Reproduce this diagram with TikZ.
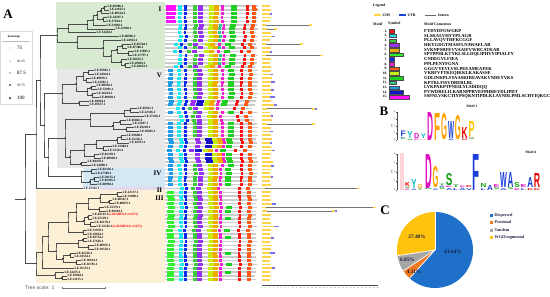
\documentclass[tikz,border=0pt]{standalone}
\usepackage{fontspec}
\setmainfont{Liberation Serif}
\setsansfont{Liberation Sans}
\usepackage{graphicx}
\usetikzlibrary{calc}

\definecolor{bgI}{HTML}{D8EAD2}
\definecolor{bgV}{HTML}{E8E8E8}
\definecolor{bgIV}{HTML}{D3E7F4}
\definecolor{bgII}{HTML}{E5D9EE}
\definecolor{bgIII}{HTML}{FCF0D6}
\definecolor{mc1}{HTML}{FF1010}
\definecolor{mc2}{HTML}{20E8F0}
\definecolor{mc3}{HTML}{3CCB3C}
\definecolor{mc4}{HTML}{9B30F5}
\definecolor{mc5}{HTML}{F2A900}
\definecolor{mc6}{HTML}{30F030}
\definecolor{mc7}{HTML}{0A2CF0}
\definecolor{mc8}{HTML}{EE22C8}
\definecolor{mc9}{HTML}{FF5A14}
\definecolor{mc10}{HTML}{C6EC10}
\definecolor{mc11}{HTML}{20D020}
\definecolor{mc12}{HTML}{30C890}
\definecolor{mc13}{HTML}{1E9BE8}
\definecolor{mc14}{HTML}{1414C8}
\definecolor{mc15}{HTML}{FF10FF}
\definecolor{cdsc}{HTML}{FFD34A}
\definecolor{utrc}{HTML}{7676EE}
\definecolor{lgblue}{HTML}{1A3FD8}
\definecolor{lgmag}{HTML}{E010C0}
\definecolor{lgorange}{HTML}{FFA200}
\definecolor{lgred}{HTML}{E80000}
\definecolor{lgcyan}{HTML}{10B8C8}
\definecolor{lggreen}{HTML}{10A010}
\definecolor{lgyellow}{HTML}{FFC800}
\definecolor{lgpink}{HTML}{FFB0B8}
\definecolor{pblue}{HTML}{1F70C8}
\definecolor{porange}{HTML}{F07A22}
\definecolor{pgray}{HTML}{A6A6A6}
\definecolor{pyellow}{HTML}{FFC20E}
\definecolor{txtdark}{HTML}{1A1A40}

\def\mw{{0,2.6,3.6,4,5,5,7,2.6,2.6,4.2,4.6,6,3.2,4.6,7,9.5}}
\def\TIa{15/166,2/178,7/184,3/193,4/198,10/209,5/213.6,8/221,11/231,1/246,9/252}
\def\TIb{2/178,7/184,3/193,4/198,10/208,5/212.6,12/218,8/222,11/229,1/243,9/250}
\def\TIc{2/175,7/181,3/189,4/194,10/206,5/210.6,8/219,11/226,1/242,9/249}
\def\TV{13/168,2/177,7/184,3/193,4/197,10/208,5/212.6,8/221,11/228,1/240,9/248}
\def\TVb{13/168,2/177,7/184,4/190,14/196,10/204,5/208.6,8/216,11/221,1/235,9/244}
\def\TVc{13/168,2/179,7/184,4/195,14/205,10/212,5/216.6,8/222,11/226,1/240,9/248}
\def\TVd{2/178,7/184,3/190,4/195,10/206,5/210.6,8/218,1/235,9/243}
\def\TIV{13/168,2/178,7/184,3/193,4/198,10/208,5/212.6,8/219,11/225,1/240,9/248}
\def\TII{2/180,7/185,3/191,4/196,10/207,5/211.6,8/217,1/238,9/246}
\def\TIII{6/167,2/179,7/184,3/193,4/197,10/208,5/212.6,8/219,1/238,9/247}
\def\TIIIb{6/167,2/179,7/184,3/193,4/197,10/208,5/212.6,8/219,11/225,1/238,9/247}

% leaf: name, tip x, row, label
\newcommand\lf[4]{%
  \coordinate (#1) at (#2,{6+3.8*#3});
  \node[leaflab] (#1t) at (#1) {#4};}
% inner node: [dot radius] name, x, child1, child2
\newcommand\nd[5][.85]{%
  \path let \p1=($(#4)!.5!(#5)$) in coordinate (#2) at (#3pt,\y1);
  \draw[br] (#4) -| (#2) |- (#5);
  \fill[bsdot] (#2) circle[radius=#1];}
% motif row: row, shift, end, list
\newcommand\mrow[4]{%
  \pgfmathsetmacro\yy{6+3.8*#1}%
  \fill[mline] (165,{\yy-0.7}) rectangle (#3,{\yy+0.7});
  \foreach \m/\s in #4 {%
    \pgfmathsetmacro\ww{\mw[\m]}%
    \fill[fill=mc\m] ({\s+#2},{\yy-1.5}) rectangle ++(\ww,3);}}
% gene structure short: row, cds length, utr length
\newcommand\gs[3]{%
  \pgfmathsetmacro\yy{6+3.8*#1}%
  \fill[cds] (262,{\yy-0.9}) rectangle ++(#2,1.8);
  \ifdim #3pt>0pt \fill[utr] ({262+#2},{\yy-0.9}) rectangle ++(#3,1.8);\fi}
% gene structure long: row, first cds, end x, utr
\newcommand\gl[4]{%
  \pgfmathsetmacro\yy{6+3.8*#1}%
  \draw[intron] (262,\yy) -- (#3,\yy);
  \fill[cds] (262,{\yy-0.9}) rectangle ++(#2,1.8);
  \fill[cds] ({#3-3},{\yy-0.9}) rectangle ++(3,1.8);
  \ifdim #4pt>0pt \fill[utr] (#3,{\yy-0.9}) rectangle ++(#4,1.8);\fi}
% logo letter: name, x, base, w, h, colour, letter
\newcommand\lt[7]{\node[inner sep=0pt,outer sep=0pt,anchor=south west] (#1) at (#2,#3) {\resizebox{#4pt}{#5pt}{\sffamily\bfseries\textcolor{#6}{#7}}};}

\begin{document}
\begin{tikzpicture}[x=1pt,y=-1pt,
  br/.style={draw=black!70,line width=.35pt},
  bsdot/.style={fill=black},
  leaflab/.style={anchor=west,inner sep=.4pt,font=\fontsize{3.3}{3.6}\selectfont\bfseries},
  mline/.style={fill=black!20},
  cds/.style={fill=cdsc},
  utr/.style={fill=utrc},
  intron/.style={draw=black!55,line width=.5pt},
  roman/.style={font=\fontsize{7}{7}\selectfont\bfseries,inner sep=0pt},
  panel/.style={font=\fontsize{13}{13}\selectfont\bfseries,inner sep=0pt},
  lgtxt/.style={font=\fontsize{3.8}{4}\selectfont\bfseries,inner sep=0pt,anchor=west},
  lgnum/.style={font=\fontsize{3.5}{4}\selectfont\bfseries,inner sep=0pt,anchor=east},
  lgseq/.style={font=\fontsize{4.6}{4.7}\selectfont\bfseries,inner sep=0pt,anchor=west},
  pielab/.style={font=\fontsize{5.3}{6}\selectfont\bfseries,text=txtdark,inner sep=0pt},
  pieleg/.style={font=\fontsize{4.2}{5}\selectfont\bfseries,text=txtdark,inner sep=0pt,anchor=west},
  tick/.style={font=\fontsize{2.4}{2.6}\selectfont,inner sep=0pt,anchor=east}]
\useasboundingbox (0,0) rectangle (550,297);
\fill[white] (0,0) rectangle (550,297);

% ---------- clade backgrounds ----------
\fill[bgI] (56,2) rectangle (165,68.7);
\fill[bgV] (57,68.7) rectangle (165,167.5);
\fill[bgIV] (83,167.5) rectangle (165,186.5);
\fill[bgII] (100,186.5) rectangle (165,190.3);
\fill[bgIII] (36,190.3) rectangle (165,283);

\node[panel] (pA) at (8,14) {A};

% ---------- bootstrap legend ----------
\draw[black!15,line width=.3] (0,31) rectangle (32,104);
\node[font=\fontsize{3}{3.5}\selectfont\bfseries,inner sep=0pt] (bst) at (14,37) {bootstrap};
\draw[black!25,line width=.3] (2,41) -- (30,41);
\fill (10,48) circle[radius=.35]; \node[font=\fontsize{5}{5}\selectfont,anchor=west,inner sep=0pt] (b75) at (17,48) {75};
\fill (10,61) circle[radius=.5]; \node[font=\fontsize{3.4}{4}\selectfont,anchor=west,inner sep=0pt] (b81) at (17,61) {81.25};
\fill (10,73) circle[radius=.65]; \node[font=\fontsize{5}{5}\selectfont,anchor=west,inner sep=0pt] (b87) at (17,73) {87.5};
\fill (10,85) circle[radius=.8]; \node[font=\fontsize{3.4}{4}\selectfont,anchor=west,inner sep=0pt] (b93) at (17,85) {93.75};
\fill (10,98) circle[radius=1]; \node[font=\fontsize{5}{5}\selectfont,anchor=west,inner sep=0pt] (b100) at (17,98) {100};

% ---------- tree: group I ----------
\lf{r0}{107}{0}{LE.05906.1}
\lf{r1}{109}{1}{LE.21163.1}
\lf{r2}{109}{2}{LE.09524.1}
\lf{r3}{107}{3}{LE.24297.1}
\lf{r4}{106}{4}{LE.17614.1}
\lf{r5}{106}{5}{LE.31092.1}
\lf{r6}{115}{6}{LE.22910.1}
\lf{r7}{96}{7}{LE.14454.1}
\lf{r8}{119}{8}{LE.08996.2}
\lf{r9}{121}{9}{LE.24922.1}
\lf{r10}{131}{10}{LE.05564.1}
\lf{r11}{127}{11}{LE.07386.1}
\lf{r12}{134}{12}{LE.11085.1}
\lf{r13}{132}{13}{LE.17797.1}
\lf{r14}{127}{14}{LE.28655.1}
\lf{r15}{129}{15}{LE.29063.1}
\lf{r16}{131}{16}{LE.28633.1}
\nd{n1}{104}{r0}{r1}
\nd{n2}{101}{n1}{r2}
\nd{n3}{103}{r3}{r4}
\nd{n4}{97}{n2}{n3}
\nd{n5}{93}{n4}{r5}
\nd{n6}{87}{n5}{r6}
\nd{n7}{68}{n6}{r7}
\nd{m1}{122}{r10}{r11}
\nd{m2}{128}{r12}{r13}
\nd{m3}{117}{m1}{m2}
\nd{m4}{125}{r15}{r16}
\nd{m5}{121}{r14}{m4}
\nd{m6}{111}{m3}{m5}
\nd{m7}{103}{r9}{m6}
\nd{m8}{77}{r8}{m7}
\nd{IR}{57}{n7}{m8}

% ---------- group V ----------
\lf{r17}{94}{17}{LE.03965.1}
\lf{r18}{94}{18}{LE.24924.1}
\lf{r19}{91}{19}{LE.09876.1}
\lf{r20}{92}{20}{LE.11302.1}
\lf{r21}{96}{21}{LE.09910.1}
\lf{r22}{97}{22}{LE.32991.1}
\lf{r23}{96}{23}{LE.26614.1}
\lf{r24}{99}{24}{LE.08029.1}
\lf{r25}{89}{25}{LE.10024.1}
\lf{r26}{89}{26}{LE.10537.1}
\lf{r27}{137}{27}{LE.05912.1}
\lf{r28}{139}{28}{LE.22316.1}
\lf{r29}{144}{29}{LE.27226.1}
\lf{r30}{126}{30}{LE.05865.1}
\lf{r31}{132}{31}{LE.31187.1}
\lf{r32}{134}{32}{LE.29210.1}
\lf{r33}{139}{33}{LE.30865.1}
\lf{r34}{126}{34}{LE.19600.1}
\lf{r35}{126}{35}{LE.25226.1}
\lf{r36}{129}{36}{LE.16972.1}
\lf{r37}{112}{37}{LE.21984.1}
\lf{r38}{107}{38}{LE.31561.1}
\lf{r39}{99}{39}{LE.01239.1}
\lf{r40}{101}{40}{LE.08969.1}
\lf{r41}{87}{41}{LE.04478.1}
\lf{r42}{91}{42}{LE.34098.1}
\nd{a1}{88}{r17}{r18}
\nd{a2}{86}{r19}{r20}
\nd{a3}{83}{a1}{a2}
\nd{a4}{91}{r21}{r22}
\nd{a5}{92}{r23}{r24}
\nd{a6}{87}{a4}{a5}
\nd{a7}{76}{a3}{a6}
\nd{a8}{79}{r25}{r26}
\nd{a9}{62}{a7}{a8}
\nd{b1}{130}{r27}{r28}
\nd{b2}{124}{b1}{r29}
\nd{b3}{120}{r30}{r31}
\nd{b4}{126}{r32}{r33}
\nd{b5}{113}{b3}{b4}
\nd{b6}{90}{b2}{b5}
\nd{c1}{121}{r34}{r35}
\nd{c2}{117}{c1}{r36}
\nd{c3}{103}{r37}{r38}
\nd{c4}{96}{c2}{c3}
\nd{c5}{94}{r39}{r40}
\nd{c6}{84}{c4}{c5}
\nd{c7}{81}{r41}{r42}
\nd{c8}{70}{c6}{c7}
\nd{vbc}{65}{b6}{c8}

% ---------- group IV and II ----------
\lf{r43}{97}{43}{LE.03336.1}
\lf{r44}{95}{44}{LE.27399.1}
\lf{r45}{99}{45}{LE.29155.1}
\lf{r46}{99}{46}{LE.05965.1}
\lf{r47}{97}{47}{LE.08994.1}
\nd{d1}{91}{r43}{r44}
\nd{d2}{94}{r45}{r46}
\nd{d3}{90}{d2}{r47}
\nd{d4}{81}{d1}{d3}
\lf{r48}{83}{48}{LE.22341.1}
\nd{x1}{48}{vbc}{d4}
\nd{V}{44}{a9}{x1}
\nd{f1}{40}{IR}{V}
\nd{u}{36}{f1}{r48}

% ---------- group III ----------
\lf{r49}{122}{49}{LE.12137.1}
\lf{r50}{122}{50}{LE.31098.1}
\lf{r51}{112}{51}{LE.00567.1}
\lf{r52}{114}{52}{LE.08873.1}
\lf{r53}{104}{53}{LE.23379.1}
\lf{r54}{106}{54}{LE.03619.1}
\lf{r55}{92}{55}{LE.03141.1\textcolor{red}{(LeBAHD1/LeSAT1)}}
\lf{r56}{92}{56}{LE.25529.1}
\lf{r57}{94}{57}{LE.02178.1}
\lf{r58}{96}{58}{LE.32265.1\textcolor{red}{(LeBAHD2/LeSAT1)}}
\lf{r59}{87}{59}{LE.31878.1}
\lf{r60}{87}{60}{LE.19854.1}
\lf{r61}{87}{61}{LE.03734.1}
\lf{r62}{87}{62}{LE.27616.1}
\lf{r63}{94}{63}{LE.00976.1}
\lf{r64}{94}{64}{LE.10529.1}
\lf{r65}{76}{65}{LE.01226.1}
\lf{r66}{74}{66}{LE.34534.1}
\lf{r67}{81}{67}{LE.30614.1}
\lf{r68}{81}{68}{LE.16781.1}
\lf{r69}{74}{69}{LE.36353.1}
\lf{r70}{64}{70}{LE.34475.1}
\lf{r71}{67}{71}{LE.19864.1}
\lf{r72}{67}{72}{LE.21155.1}
\nd{p1}{117}{r49}{r50}
\nd{p2}{109}{r51}{r52}
\nd{p3}{100}{p1}{p2}
\nd{p4}{99}{r53}{r54}
\nd{p5}{88}{p3}{p4}
\nd{p6}{88}{r55}{r56}
\nd{p7}{90}{r57}{r58}
\nd{p8}{84}{p6}{p7}
\nd{p9}{76}{p5}{p8}
\nd{p10}{83}{r59}{r60}
\nd{p11}{68}{p9}{p10}
\nd{q1}{83}{r61}{r62}
\nd{q2}{88}{r63}{r64}
\nd{q3}{78}{q1}{q2}
\nd{q4}{70}{r65}{r66}
\nd{q5}{76}{r67}{r68}
\nd{q6}{63}{q4}{q5}
\nd{q7}{56}{q3}{q6}
\nd{p12}{48}{p11}{q7}
\nd{q8}{42}{p12}{r69}
\nd{q9}{62}{r71}{r72}
\nd{q10}{55}{r70}{q9}
\nd{q11}{36}{q8}{q10}
\nd{R}{25}{u}{q11}
\draw[br] (R) -- ++(-10,0);

% clade numerals
\node[roman] (cI) at (160,9) {I};
\node[roman] (cV) at (159.5,75.5) {V};
\node[roman] (cIV) at (157.5,173) {IV};
\node[roman] (cII) at (159.5,190) {II};
\node[roman] (cIII) at (159.5,198.5) {III};

% tree scale
\node[font=\fontsize{5}{5}\selectfont\sffamily,text=black!65,anchor=west,inner sep=0pt] (tsc) at (25,288) {Tree scale: 1};
\draw[black!55,line width=.4] (62,288) -- (105,288);
\draw[black!55,line width=.4] (62,286.8) -- (62,289.2);
\draw[black!55,line width=.4] (105,286.8) -- (105,289.2);

% ---------- motifs ----------
\mrow{0}{0}{258}{\TIa}
\mrow{1}{0.3}{259}{\TIa}
\mrow{2}{0}{258}{\TIa}
\mrow{3}{-0.3}{258}{\TIa}
\mrow{4}{0}{257}{\TIa}
\mrow{5}{0.5}{257}{\TIb}
\mrow{6}{0}{258}{\TIb}
\mrow{7}{-0.5}{256}{\TIb}
\mrow{8}{1}{258}{\TIb}
\mrow{9}{0}{257}{\TIb}
\mrow{10}{-1}{256}{\TIc}
\mrow{11}{0}{257}{\TIb}
\mrow{12}{-2}{254}{\TIc}
\mrow{13}{0.5}{258}{\TIb}
\mrow{14}{0}{257}{\TIb}
\mrow{15}{0}{257}{\TIb}
\mrow{16}{-1}{255}{\TIc}
\mrow{17}{0}{258}{\TV}
\mrow{18}{0.5}{258}{\TV}
\mrow{19}{0}{257}{\TV}
\mrow{20}{0}{258}{\TV}
\mrow{21}{-0.5}{257}{\TV}
\mrow{22}{0}{258}{\TV}
\mrow{23}{0.5}{258}{\TV}
\mrow{24}{0}{257}{\TV}
\mrow{25}{1}{256}{\TVb}
\mrow{26}{0}{255}{\TVb}
\mrow{27}{-2}{252}{\TVd}
\mrow{28}{0}{257}{\TV}
\mrow{29}{1}{253}{\TVd}
\mrow{30}{2}{254}{\TVd}
\mrow{31}{0}{257}{\TV}
\mrow{32}{0}{258}{\TV}
\mrow{33}{0}{257}{\TV}
\mrow{34}{0}{258}{\TV}
\mrow{35}{0}{256}{\TVc}
\mrow{36}{1}{257}{\TVc}
\mrow{37}{0}{256}{\TVc}
\mrow{38}{-1}{254}{\TVb}
\mrow{39}{0}{256}{\TVc}
\mrow{40}{0}{257}{\TVc}
\mrow{41}{1}{258}{\TVc}
\mrow{42}{0}{257}{\TV}
\mrow{43}{0}{257}{\TIV}
\mrow{44}{0.5}{258}{\TIV}
\mrow{45}{0}{257}{\TIV}
\mrow{46}{-0.5}{256}{\TIV}
\mrow{47}{0}{257}{\TIV}
\mrow{48}{0}{262}{\TII}
\mrow{49}{0}{256}{\TIII}
\mrow{50}{0}{256}{\TIII}
\mrow{51}{0.5}{257}{\TIII}
\mrow{52}{0}{256}{\TIII}
\mrow{53}{1}{257}{\TIIIb}
\mrow{54}{0}{256}{\TIIIb}
\mrow{55}{0.5}{256}{\TIII}
\mrow{56}{0}{256}{\TIIIb}
\mrow{57}{0}{255}{\TIII}
\mrow{58}{0.5}{257}{\TIII}
\mrow{59}{-1}{254}{\TIIIb}
\mrow{60}{0}{256}{\TIII}
\mrow{61}{0}{256}{\TIIIb}
\mrow{62}{0.5}{257}{\TIII}
\mrow{63}{0}{256}{\TIII}
\mrow{64}{0}{256}{\TIII}
\mrow{65}{-0.5}{255}{\TIIIb}
\mrow{66}{0}{256}{\TIII}
\mrow{67}{0}{256}{\TIII}
\mrow{68}{1}{257}{\TIIIb}
\mrow{69}{0}{256}{\TIII}
\mrow{70}{0}{256}{\TIIIb}
\mrow{71}{0}{255}{\TIII}
\mrow{72}{0}{256}{\TIII}

% ---------- gene structures ----------
\foreach \r/\a/\b in {0/8/0,1/9/0,2/8/2,3/9/0,4/8/0,7/9/0,8/10/3,9/8/0,11/9/0,12/8/2,14/9/0,15/8/0,16/9/0,
  17/9/0,18/8/3,19/10/0,20/9/4,21/8/0,22/9/3,23/10/0,24/8/5,25/9/0,26/12/3,28/8/0,29/9/2,30/10/0,32/9/0,33/8/3,34/9/0,35/10/0,36/8/2,37/9/0,38/10/3,39/9/0,40/8/0,41/11/0,42/9/3,
  43/9/0,44/8/0,45/9/2,46/8/0,47/9/0,
  49/9/0,50/8/0,51/9/0,52/10/4,55/9/0,56/8/0,57/9/0,58/12/5,59/9/0,60/8/0,61/9/3,62/8/0,63/10/0,64/9/0,65/8/5,66/9/0,67/8/0,68/9/0,69/10/3,70/8/0,71/9/0,72/8/0}
  {\gs{\r}{\a}{\b}}
\gl{5}{4}{312}{0}
\gl{6}{5}{277}{0}
\gl{10}{4}{303}{0}
\gl{13}{4}{323}{0}
\gl{27}{5}{315}{2}
\gl{31}{5}{315}{0}
\gl{48}{3}{360}{0}
\gl{53}{4}{376}{0}
\gl{54}{5}{335}{2}
% axis
\draw[black!70,line width=.3] (262,285) -- (378,285);
\foreach \k in {0,...,30} {
  \draw[black!70,line width=.25] ({262+3.85*\k},285) -- ++(0,1.2);
  \node[font=\fontsize{1.5}{1.6}\selectfont,inner sep=0pt] (ax\k) at ({262+3.85*\k},287.6) {\k};}

% ---------- legend ----------
\node[lgtxt] (leg) at (373,6) {Legend};
\fill[cdsc,rounded corners=.8] (374,13.8) rectangle (381,16.2);
\node[lgtxt] (lcds) at (382.5,15) {CDS};
\fill[lgblue] (399,13.9) rectangle (406,16.1);
\node[lgtxt] (lutr) at (407.5,15) {UTR};
\draw[black!60,line width=.5] (425,15) -- (436,15);
\node[lgtxt] (lint) at (438,15) {Intron};
\node[lgtxt] (hm) at (373,24) {Motif};
\node[lgtxt] (hs) at (388,24) {Symbol};
\node[lgtxt] (hc) at (424,24) {Motif Consensus};
\foreach \k/\w/\sq in {1/5/FYDYDFGWGKP,2/7/SLSKALVHYYPLAGR,3/7/PLLAVQVTHFKCGGF,4/10/HKYGDGTMASFLNAWAELAR,5/10/SVKNPSRFEVVAAIFVWRCATKAR,6/14/SPTPPHLKTYKLSLLDQLIPHVYIPIALFY,7/5/CNDEGVLFIEA,8/5/PPLPENYFGNA,9/10/GGGVYEVLVSLPEEAMEAFEK,10/10/VKRFVFTKEQIKKLKAKASSE,11/14/GDLINKPLSYAASKIREAVAKVNDEYVKS,12/7/KPTKLFISVDRERLRL,13/10/LVKPAKPTPNEILYLSDIDQQ,14/14/PVWDRELILKARNPPRVEFPHHEYDLIPDT,15/20/SSFNLVSKCTIYPSQKNTIPDLKLAYNDLPMLSCHYIQKGC} {
  \pgfmathsetmacro\ly{31+4.7*(\k-1)}
  \node[lgnum] (ln\k) at (387.5,\ly) {\k.};
  \filldraw[fill=mc\k,draw=black!70,line width=.2] (389,{\ly-1.8}) rectangle ++(\w,3.6);
  \node[lgseq] (ls\k) at (424,\ly) {\sq};}

% ---------- B: logos ----------
\node[panel] (pB) at (384,111) {B};
\node[font=\fontsize{3.5}{4}\selectfont\bfseries,inner sep=0pt] (t1) at (472,106) {Motif 1};
\draw[black!70,line width=.3] (397,112) -- (397,140);
\foreach \k in {0,...,4} {\draw[black!70,line width=.25] (397,{140-7*\k}) -- ++(-1,0);
  \node[tick] (ya\k) at (395.6,{140-7*\k}) {\k};}
\node[font=\fontsize{2.2}{2.4}\selectfont,rotate=90,inner sep=0pt] (bits1) at (391.5,126) {bits};
\lt{a1s}{400.5}{140}{5.2}{1.2}{lggreen}{S}
\lt{a1t}{400.5}{138.3}{5.2}{1.1}{lgblue}{L}
\lt{a1}{400.5}{136.7}{5.2}{5.5}{lgblue}{F}
\lt{a2s}{407.3}{140}{5.2}{1.2}{lggreen}{N}
\lt{a2}{407.3}{138.3}{5.2}{7}{lgcyan}{Y}
\lt{a3s}{414.1}{140}{5.2}{1.3}{lgmag}{E}
\lt{a3}{414.1}{138.2}{5.2}{5}{lgmag}{D}
\lt{a4s}{420.9}{140}{5.2}{1.1}{lgpink}{H}
\lt{a4}{420.9}{138.4}{5.2}{4.5}{lgcyan}{Y}
\lt{a5}{427.7}{140}{6}{28}{lgmag}{D}
\lt{a6}{434.5}{140}{6}{27}{lgorange}{F}
\lt{a7}{441.3}{140}{6}{26}{lgorange}{G}
\lt{a8s}{448.1}{140}{6}{1.4}{lgblue}{A}
\lt{a8}{448.1}{138.1}{6}{17}{lgblue}{W}
\lt{a9}{454.9}{140}{6}{24}{lgorange}{G}
\lt{a10s}{461.7}{140}{6}{1.4}{lgred}{R}
\lt{a10}{461.7}{138.1}{6}{11}{lgred}{K}
\lt{a11s}{468.5}{140}{6}{1.4}{lggreen}{S}
\lt{a11t}{468.5}{138.1}{6}{1.3}{lgpink}{H}
\lt{a11}{468.5}{136.3}{6}{15}{lgyellow}{P}

\node[font=\fontsize{3.5}{4}\selectfont\bfseries,inner sep=0pt] (t4) at (531,152) {Motif 4};
\draw[black!70,line width=.3] (397,154) -- (397,190);
\foreach \k in {0,...,4} {\draw[black!70,line width=.25] (397,{190-9*\k}) -- ++(-1,0);
  \node[tick] (yb\k) at (395.6,{190-9*\k}) {\k};}
\node[font=\fontsize{2.2}{2.4}\selectfont,rotate=90,inner sep=0pt] (bits4) at (391.5,172) {bits};
\fill[lgpink!55] (400,153) rectangle (404,190);
\lt{b1s}{405}{190}{4.8}{1.4}{lgmag}{E}
\lt{b1t}{405}{188.1}{4.8}{1.4}{lggreen}{S}
\lt{b1}{405}{186.2}{4.8}{4}{lgred}{K}
\lt{b2s}{411.3}{190}{5.3}{1.4}{lgblue}{A}
\lt{b2}{411.3}{188.1}{5.3}{9}{lgcyan}{Y}
\lt{b3s}{417.6}{190}{4.8}{1.4}{lggreen}{T}
\lt{b3}{417.6}{188.1}{4.8}{4}{lgorange}{G}
\lt{b4s}{425}{190}{6.8}{0.9}{lggreen}{N}
\lt{b4}{425}{188.6}{6.8}{34}{lgmag}{D}
\lt{b5s}{432.5}{190}{5.8}{1.4}{lgblue}{A}
\lt{b5}{432.5}{188.1}{5.8}{21}{lgorange}{G}
\lt{b6s}{439}{190}{5.8}{1.8}{lggreen}{S}
\lt{b6t}{439}{187.7}{5.8}{1.4}{lgblue}{A}
\lt{b6}{439}{185.8}{5.8}{1.4}{lggreen}{T}
\lt{b7s}{445.8}{190}{6.6}{1.8}{lgblue}{A}
\lt{b7t}{445.8}{187.7}{6.6}{1.4}{lgmag}{E}
\lt{b7}{445.8}{185.8}{6.6}{12}{lggreen}{S}
\lt{b8s}{453.2}{190}{5.8}{1.8}{lgblue}{L}
\lt{b8}{453.2}{187.7}{5.8}{2.5}{lggreen}{T}
\lt{b9s}{459.7}{190}{5.8}{2.3}{lgblue}{A}
\lt{b9}{459.7}{187.2}{5.8}{1.4}{lgmag}{E}
\lt{b10s}{466.2}{190}{5.8}{1.8}{lgblue}{V}
\lt{b10}{466.2}{187.7}{5.8}{2}{lgred}{K}
\lt{b11}{472.8}{190}{7}{36}{lgblue}{F}
\lt{b12s}{480.5}{190}{5.8}{1.8}{lgblue}{L}
\lt{b12}{480.5}{187.7}{5.8}{4}{lggreen}{N}
\lt{b13}{487}{190}{5.8}{5}{lgblue}{A}
\lt{b14s}{493.5}{190}{5.8}{1.8}{lggreen}{S}
\lt{b14}{493.5}{187.7}{5.8}{3}{lgmag}{E}
\lt{b15s}{500}{190}{6.8}{1.8}{lgblue}{A}
\lt{b15}{500}{187.7}{6.8}{15}{lgblue}{W}
\lt{b16s}{507.5}{190}{5.8}{1.8}{lggreen}{S}
\lt{b16}{507.5}{187.7}{5.8}{15}{lgblue}{A}
\lt{b17s}{514}{190}{5.8}{1.8}{lgmag}{E}
\lt{b17}{514}{187.7}{5.8}{5}{lggreen}{S}
\lt{b18s}{520.5}{190}{5.8}{1.8}{lgblue}{L}
\lt{b18}{520.5}{187.7}{5.8}{3}{lgmag}{E}
\lt{b19s}{527.3}{190}{5.8}{1.8}{lgred}{K}
\lt{b19}{527.3}{187.7}{5.8}{10}{lgblue}{A}
\lt{b20s}{533.8}{190}{6.3}{1.8}{lgred}{K}
\lt{b20}{533.8}{187.7}{6.3}{14}{lgred}{R}

% ---------- C: pie ----------
\node[panel] (pC) at (385,210) {C};
\coordinate (pc) at (435,250);
\fill[pblue] (pc) -- ++(-90:38) arc[start angle=-90,end angle=131.9,radius=38] -- cycle;
\fill[porange] (pc) -- ++(131.9:38) arc[start angle=131.9,end angle=146.7,radius=38] -- cycle;
\fill[pgray] (pc) -- ++(146.7:38) arc[start angle=146.7,end angle=171.4,radius=38] -- cycle;
\fill[pyellow] (pc) -- ++(171.4:38) arc[start angle=171.4,end angle=270,radius=38] -- cycle;
\foreach \a in {-90,131.9,146.7,171.4} \draw[white,line width=.7] (pc) -- ++(\a:38);
\node[pielab] (s1) at (453,252) {61.64\%};
\node[pielab] (s2) at (414,272) {4.11\%};
\node[pielab] (s3) at (407.5,260) {6.85\%};
\node[pielab] (s4) at (417,237) {27.40\%};
\fill[pblue] (489.5,213.5) rectangle ++(3,3);
\node[pieleg] (pl1) at (494.5,215) {Dispersed};
\fill[porange] (489.5,221) rectangle ++(3,3);
\node[pieleg] (pl2) at (494.5,222.5) {Proximal};
\fill[pgray] (489.5,228.5) rectangle ++(3,3);
\node[pieleg] (pl3) at (494.5,230) {Tandem};
\fill[pyellow] (489.5,236) rectangle ++(3,3);
\node[pieleg] (pl4) at (494.5,237.5) {WGD/segmental};
\end{tikzpicture}
\end{document}
